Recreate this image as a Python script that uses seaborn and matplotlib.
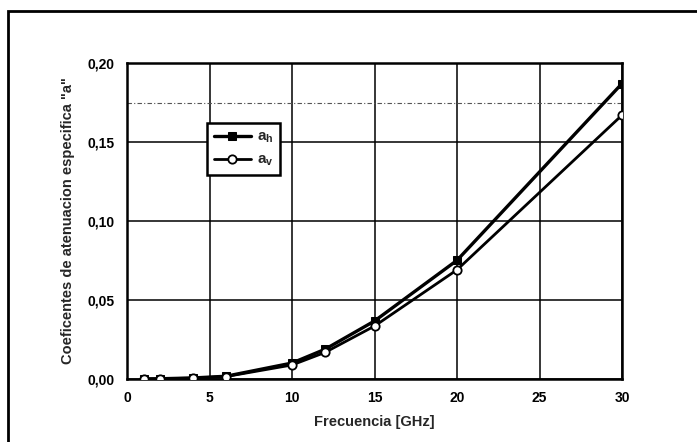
import matplotlib
matplotlib.use("Agg")
import matplotlib.pyplot as plt
import matplotlib.patches as mpatches
from matplotlib.ticker import MultipleLocator, FuncFormatter
import seaborn as sns
import pandas as pd

# Frecuencias (GHz) y coeficientes k para polarización horizontal y vertical
freq_ghz = [1, 2, 4, 6, 10, 12, 15, 20, 30]
k_h = [0.0000387, 0.000154, 0.000650, 0.00175, 0.0101, 0.0188, 0.0367, 0.0751, 0.187]
k_v = [0.0000352, 0.000138, 0.000591, 0.00155, 0.00887, 0.0168, 0.0335, 0.0691, 0.167]

x_ticks = [0, 5, 10, 15, 20, 25, 30]
y_ticks = [0.00, 0.05, 0.10, 0.15, 0.20]

sns.set_theme(style="white")
plt.rcParams["font.family"] = ["Liberation Sans", "DejaVu Sans"]
plt.rcParams["font.weight"] = "bold"
plt.rcParams["mathtext.fontset"] = "custom"
plt.rcParams["mathtext.rm"] = "Liberation Sans:bold"
plt.rcParams["mathtext.it"] = "Liberation Sans:bold"
plt.rcParams["mathtext.bf"] = "Liberation Sans:bold"

fig = plt.figure(figsize=(6.97, 4.42), dpi=100)
fig.patch.set_facecolor("white")

# Marco exterior
frame = mpatches.Rectangle((8 / 697, -0.05), 1.2, 1 - 11 / 442 + 0.05,
                           transform=fig.transFigure, fill=False,
                           edgecolor="black", linewidth=2.0, clip_on=False)
fig.patches.append(frame)

ax = fig.add_axes([127 / 697, 1 - 379 / 442, (622 - 127) / 697, (379 - 63) / 442])
ax.set_facecolor("white")

df = pd.DataFrame({"f": freq_ghz, "kh": k_h, "kv": k_v})

sns.lineplot(data=df, x="f", y="kh", ax=ax, color="black", linewidth=2.4,
             marker="s", markersize=5.5, markerfacecolor="black",
             markeredgecolor="black", label=r"$a_h$", zorder=4)
sns.lineplot(data=df, x="f", y="kv", ax=ax, color="black", linewidth=2.0,
             marker="o", markersize=6, markerfacecolor="white",
             markeredgecolor="black", markeredgewidth=1.3,
             label=r"$a_v$", zorder=5)

ax.set_xlim(0, 30)
ax.set_ylim(0, 0.20)
ax.set_xticks(x_ticks)
ax.set_yticks(y_ticks)
ax.xaxis.set_minor_locator(MultipleLocator(2.5))
ax.yaxis.set_minor_locator(MultipleLocator(0.025))
ax.yaxis.set_major_formatter(FuncFormatter(lambda v, p: f"{v:.2f}".replace(".", ",")))

ax.grid(True, which="major", color="black", linewidth=1.1)
ax.axhline(0.175, color="#555555", linewidth=0.8, linestyle=(0, (4, 2, 1, 2)), zorder=1)

for s in ax.spines.values():
    s.set_color("black")
    s.set_linewidth(1.8)

ax.tick_params(axis="both", which="major", direction="out", length=6, width=1.3,
               colors="black", labelsize=10, pad=3)
ax.tick_params(axis="both", which="minor", direction="out", length=3, width=1.0,
               colors="black")
for lab in ax.get_xticklabels() + ax.get_yticklabels():
    lab.set_fontweight("bold")

ax.set_xlabel("Frecuencia [GHz]", fontsize=10.5, fontweight="bold", labelpad=7)
ax.set_ylabel('Coeficentes de atenuacion especifica "a"', fontsize=10.5,
              fontweight="bold", labelpad=9)

leg = ax.legend(loc="upper left", bbox_to_anchor=((207 - 127) / 495, (379 - 123) / 316),
                frameon=True, fancybox=False, edgecolor="black", fontsize=11,
                handlelength=2.4, handletextpad=0.4, borderpad=0.45,
                labelspacing=0.5, borderaxespad=0)
leg.get_frame().set_linewidth(1.8)
leg.get_frame().set_facecolor("white")
leg.get_frame().set_alpha(1)

fig.savefig("out.png", dpi=100, facecolor="white")
